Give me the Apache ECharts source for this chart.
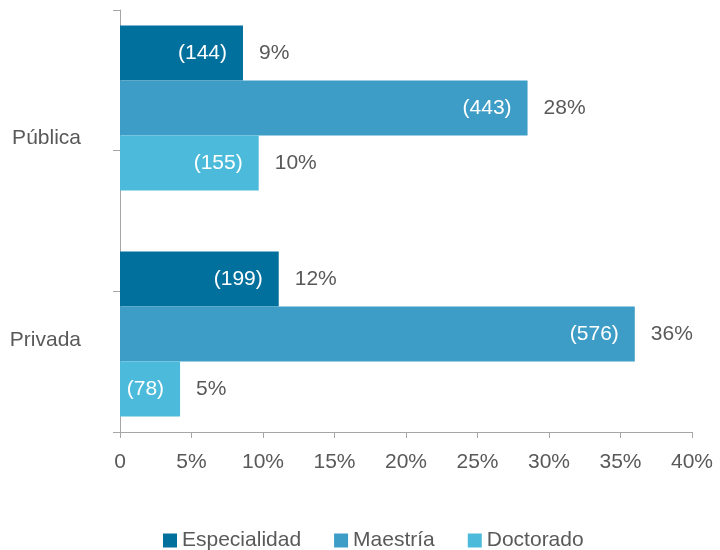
<!DOCTYPE html>
<html>
<head>
<meta charset="utf-8">
<script src="https://cdn.jsdelivr.net/npm/echarts@6/dist/echarts.min.js"></script>
<style>
  html, body { margin: 0; padding: 0; background: #fff; }
  #main { width: 720px; height: 550px; }
</style>
</head>
<body>
<div id="main"></div>
<script>
var categories = ['Pública', 'Privada'];
var seriesNames = ['Especialidad', 'Maestría', 'Doctorado'];
// bar lengths (%)
var especialidad = [8.6, 11.1];
var maestria = [28.5, 36.0];
var doctorado = [9.7, 4.2];
// labels shown in the chart
var counts = [[144, 199], [443, 576], [155, 78]];
var pctLabels = [['9%', '12%'], ['28%', '36%'], ['10%', '5%']];
var xTicks = [0, 5, 10, 15, 20, 25, 30, 35, 40];

var colors = ['#02709d', '#3d9dc7', '#4cbbdb'];
var textColor = '#595959';
var axisColor = '#a6a6a6';
var font = 'Liberation Sans';

var chart = echarts.init(document.getElementById('main'), null, { renderer: 'canvas' });

var values = [especialidad, maestria, doctorado];
var series = [];

// visible bars with the count inside
values.forEach(function (v, i) {
  series.push({
    name: seriesNames[i],
    type: 'bar',
    xAxisIndex: 1,
    yAxisIndex: 1,
    barWidth: 55,
    barGap: 0,
    data: v,
    itemStyle: { color: colors[i] },
    label: {
      show: true,
      position: 'insideRight',
      distance: 16,
      color: '#fff',
      fontSize: 21,
      fontFamily: font,
      formatter: function (p) { return '(' + counts[i][p.dataIndex] + ')'; }
    }
  });
});

// transparent copies that carry the percentage outside the bar
values.forEach(function (v, i) {
  series.push({
    name: 'pct' + i,
    type: 'bar',
    xAxisIndex: 1,
    yAxisIndex: 2,
    barWidth: 55,
    barGap: 0,
    silent: true,
    data: v,
    itemStyle: { color: 'rgba(0,0,0,0)' },
    label: {
      show: true,
      position: 'right',
      distance: 16,
      color: textColor,
      fontSize: 21,
      fontFamily: font,
      formatter: function (p) { return pctLabels[i][p.dataIndex]; }
    }
  });
});

var option = {
  backgroundColor: '#fff',
  animation: false,
  textStyle: { fontFamily: font },
  legend: {
    data: seriesNames,
    left: 158,
    top: 525,
    icon: 'rect',
    itemWidth: 14,
    itemHeight: 14,
    itemGap: 33,
    textStyle: { color: textColor, fontSize: 21, fontFamily: font }
  },
  grid: [
    { left: 120, right: 28, top: 10, bottom: 118, outerBoundsMode: 'none' },
    { left: 120, right: 28, top: -5, bottom: 103, outerBoundsMode: 'none' }
  ],
  xAxis: [
    {
      type: 'value',
      gridIndex: 0,
      min: 0,
      max: 40,
      interval: 5,
      axisLine: { show: true, lineStyle: { color: axisColor } },
      axisTick: { show: true, length: 6, lineStyle: { color: axisColor } },
      splitLine: { show: false },
      axisLabel: {
        color: textColor,
        fontSize: 21,
        fontFamily: font,
        margin: 20,
        formatter: function (v) { return xTicks.indexOf(v) === 0 ? '0' : v + '%'; }
      }
    },
    { type: 'value', gridIndex: 1, min: 0, max: 40, show: false }
  ],
  yAxis: [
    {
      type: 'value',
      gridIndex: 0,
      min: 0,
      max: 3,
      interval: 1,
      axisLine: { show: true, lineStyle: { color: axisColor } },
      axisTick: { show: true, length: 7, lineStyle: { color: axisColor } },
      axisLabel: { show: false },
      splitLine: { show: false }
    },
    {
      type: 'category',
      gridIndex: 1,
      inverse: true,
      data: categories,
      axisLine: { show: false },
      axisTick: { show: false },
      axisLabel: {
        color: textColor,
        fontSize: 21,
        fontFamily: font,
        margin: 39,
        formatter: function (v, idx) { return '{c' + idx + '|' + v + '}'; },
        rich: {
          c0: { color: textColor, fontSize: 21, fontFamily: font, padding: [60, 0, 0, 0] },
          c1: { color: textColor, fontSize: 21, fontFamily: font, padding: [12, 0, 0, 0] }
        }
      }
    },
    {
      type: 'category',
      gridIndex: 1,
      inverse: true,
      data: categories,
      show: false
    }
  ],
  series: series
};

chart.setOption(option);
</script>
</body>
</html>
